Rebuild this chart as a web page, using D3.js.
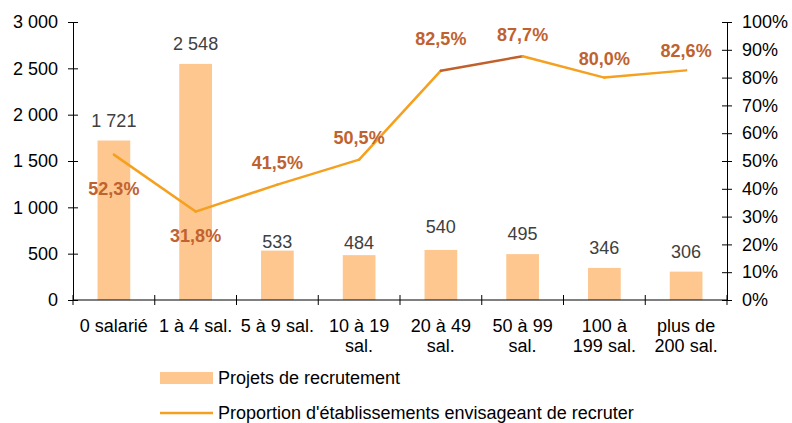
<!DOCTYPE html>
<html>
<head>
<meta charset="utf-8">
<script src="https://cdn.jsdelivr.net/npm/d3@7"></script>
<style>
  body { margin: 0; background: #fff; }
  svg text { font-family: "Liberation Sans", Arial, sans-serif; }
</style>
</head>
<body>
<div id="chart"></div>
<script>
const categories = [
  ["0 salarié"], ["1 à 4 sal."], ["5 à 9 sal."], ["10 à 19", "sal."],
  ["20 à 49", "sal."], ["50 à 99", "sal."], ["100 à", "199 sal."], ["plus de", "200 sal."]
];
const projets = [1721, 2548, 533, 484, 540, 495, 346, 306];
const proportion = [0.523, 0.318, 0.415, 0.505, 0.825, 0.877, 0.800, 0.826];
const leftTicks = [0, 500, 1000, 1500, 2000, 2500, 3000];
const rightTicks = [0, 0.1, 0.2, 0.3, 0.4, 0.5, 0.6, 0.7, 0.8, 0.9, 1];
const legendLabels = ["Projets de recrutement", "Proportion d'établissements envisageant de recruter"];

const fr = d3.formatLocale({decimal: ",", thousands: " ", grouping: [3], currency: ["", " €"]});
const fmtNum = fr.format(",");
const fmtPct = fr.format(".1%");
const fmtTick = fr.format(".0%");

const barColor = "#fdc78f", lineColor = "#f5a01e", darkLine = "#c0602b", labelColor = "#c0622f";

const W = 792, H = 423;
const plot = {left: 73, right: 727, top: 22, bottom: 300};

const svg = d3.select("#chart").append("svg")
  .attr("width", W).attr("height", H);

const x = d3.scaleBand().domain(d3.range(categories.length)).range([plot.left, plot.right]);
const y = d3.scaleLinear().domain([0, 3000]).range([plot.bottom, plot.top]);
const y2 = d3.scaleLinear().domain([0, 1]).range([plot.bottom, plot.top]);

// bars
svg.append("g").selectAll("rect")
  .data(projets)
  .join("rect")
  .attr("x", (d, i) => x(i) + x.bandwidth() * 0.3)
  .attr("width", x.bandwidth() * 0.4)
  .attr("y", d => y(d))
  .attr("height", d => y(0) - y(d))
  .attr("fill", barColor);

// left axis
const gl = svg.append("g").attr("transform", `translate(${plot.left},0)`)
  .call(d3.axisLeft(y).tickValues(leftTicks).tickFormat(fmtNum).tickSizeInner(5).tickSizeOuter(0).tickPadding(10));
gl.selectAll(".tick line").attr("x2", 5).attr("x1", -5);

// right axis
const gr = svg.append("g").attr("transform", `translate(${plot.right},0)`)
  .call(d3.axisRight(y2).tickValues(rightTicks).tickFormat(fmtTick).tickSizeInner(5).tickSizeOuter(0).tickPadding(10));
gr.selectAll(".tick line").attr("x1", -5).attr("x2", 5);

// bottom axis
const gb = svg.append("g").attr("transform", `translate(0,${plot.bottom})`);
gb.append("line").attr("x1", plot.left).attr("x2", plot.right).attr("stroke", "#000");
gb.selectAll("line.t")
  .data(d3.range(categories.length + 1))
  .join("line").attr("class", "t")
  .attr("x1", i => plot.left + i * x.step()).attr("x2", i => plot.left + i * x.step())
  .attr("y1", -5).attr("y2", 5).attr("stroke", "#000");
gb.selectAll("text.cat")
  .data(categories)
  .join("text").attr("class", "cat")
  .attr("x", (d, i) => x(i) + x.bandwidth() / 2)
  .attr("y", 32)
  .attr("text-anchor", "middle")
  .attr("font-size", 18)
  .attr("fill", "#000")
  .selectAll("tspan")
  .data(d => d)
  .join("tspan")
  .attr("x", function() { return this.parentNode.getAttribute("x"); })
  .attr("dy", (d, j) => j === 0 ? 0 : 20)
  .text(d => d);

[gl, gr].forEach(g => {
  g.select(".domain").attr("stroke", "#000");
  g.selectAll(".tick line").attr("stroke", "#000");
  g.selectAll(".tick text").attr("font-size", 18).attr("fill", "#000")
    .attr("font-family", "Liberation Sans, Arial, sans-serif");
});

// bar value labels
const barDy = [-14, -14, -3, -6, -17, -14, -14, -14];
svg.append("g").selectAll("text")
  .data(projets)
  .join("text")
  .attr("x", (d, i) => x(i) + x.bandwidth() / 2)
  .attr("y", (d, i) => y(d) + barDy[i])
  .attr("text-anchor", "middle")
  .attr("font-size", 18)
  .attr("fill", "#404040")
  .text(d => fmtNum(d));

// line, drawn segment by segment
const cx = i => x(i) + x.bandwidth() / 2;
svg.append("g").selectAll("line")
  .data(d3.pairs(proportion.map((p, i) => [cx(i), y2(p)])))
  .join("line")
  .attr("x1", d => d[0][0]).attr("y1", d => d[0][1])
  .attr("x2", d => d[1][0]).attr("y2", d => d[1][1])
  .attr("stroke", (d, i) => i === 4 ? darkLine : lineColor)
  .attr("stroke-width", 2.5)
  .attr("stroke-linecap", "round");

// percentage labels
const pctDy = [40, 30, -16, -16, -26, -15, -13, -13];
svg.append("g").selectAll("text")
  .data(proportion)
  .join("text")
  .attr("x", (d, i) => cx(i))
  .attr("y", (d, i) => y2(d) + pctDy[i])
  .attr("text-anchor", "middle")
  .attr("font-size", 18)
  .attr("font-weight", "bold")
  .attr("fill", labelColor)
  .text(d => fmtPct(d));

// legend
const lg = svg.append("g");
lg.append("rect").attr("x", 160).attr("y", 372).attr("width", 53).attr("height", 12).attr("fill", barColor);
lg.append("line").attr("x1", 160).attr("x2", 213).attr("y1", 413).attr("y2", 413)
  .attr("stroke", lineColor).attr("stroke-width", 2.5);
lg.selectAll("text")
  .data(legendLabels)
  .join("text")
  .attr("x", 218)
  .attr("y", (d, i) => 384 + i * 35)
  .attr("font-size", 18)
  .attr("fill", "#000")
  .text(d => d);
</script>
</body>
</html>
